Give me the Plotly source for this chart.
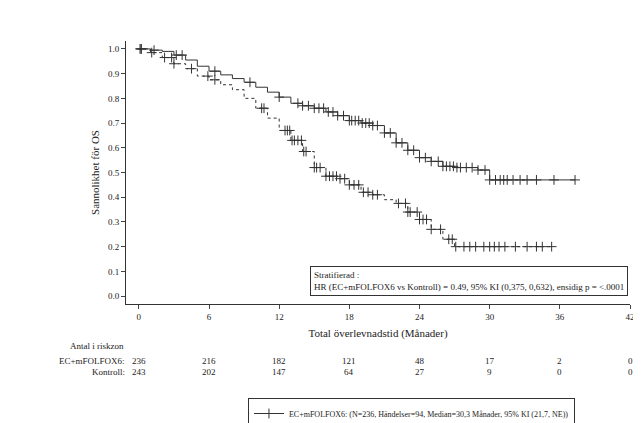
import plotly.graph_objects as go

ec_t = [0,1,2,3,4,5,6,7,8,9,10,11,12,13,14,15,16,17,18,19,20,21,22,23,24,25,26,27,29,30,37.3]
ec_s = [1.0,0.995,0.99,0.975,0.955,0.93,0.91,0.895,0.88,0.865,0.845,0.825,0.805,0.78,0.77,0.76,0.745,0.73,0.71,0.70,0.69,0.66,0.62,0.59,0.56,0.545,0.525,0.52,0.51,0.47,0.47]
ec_c = [0.2,1.3,3.2,3.7,6.5,9.5,12,13.6,14,14.5,15,15.4,15.8,16.2,16.6,17,17.5,18,18.2,18.5,18.8,19.1,19.4,19.7,20,20.4,21,21.5,22,22.5,23,23.5,24,24.5,25,25.6,26,26.3,26.6,26.9,27.2,27.5,28,28.5,29,29.6,30,30.5,30.9,31.2,31.5,32,32.6,33.2,34,35.5,37.3]
k_t = [0,1,2,3,4,5,6,7,8,9,10,11,12,13,14,15,16,17,18,19,20,21,22,23,24,25,26,27,35.3]
k_s = [1.0,0.985,0.965,0.94,0.92,0.89,0.875,0.855,0.835,0.80,0.76,0.72,0.67,0.63,0.585,0.52,0.485,0.475,0.45,0.42,0.41,0.39,0.375,0.34,0.31,0.27,0.23,0.2,0.2]
k_c = [0.1,0.2,1.1,2.2,2.8,3.0,4.5,5.9,6.5,10.5,10.7,12.5,12.7,12.9,13.1,13.3,13.6,13.9,14.1,14.3,15,15.2,15.5,16,16.3,16.6,16.9,17.2,17.6,18,18.4,18.8,19.2,19.6,20,20.4,22.2,22.8,23,23.2,23.8,24,24.3,24.6,25,25.8,26.5,26.8,27.1,27.8,28.3,28.8,29.5,30,30.4,30.8,31.3,32.2,33.2,34,34.5,35.3]

risk_x = [0,6,12,18,24,30,36,42]
risk_ec = [236,216,182,121,48,17,2,0]
risk_k = [243,202,147,64,27,9,0,0]

def step(t, s, c):
    return [s[max(i for i in range(len(t)) if t[i] <= x)] for x in c]

mk = dict(symbol="cross-thin", size=7, line=dict(color="#333", width=1))
fig = go.Figure()
fig.add_trace(go.Scatter(x=ec_t, y=ec_s, mode="lines", line=dict(color="#333", width=1, shape="hv"), showlegend=False, hoverinfo="skip"))
fig.add_trace(go.Scatter(x=ec_c, y=step(ec_t, ec_s, ec_c), mode="markers", marker=mk, showlegend=False))
fig.add_trace(go.Scatter(x=k_t, y=k_s, mode="lines", line=dict(color="#333", width=1, shape="hv", dash="dot"), showlegend=False, hoverinfo="skip"))
fig.add_trace(go.Scatter(x=k_c, y=step(k_t, k_s, k_c), mode="markers", marker=mk, showlegend=False))
fig.add_trace(go.Scatter(x=[None], y=[None], mode="lines+markers", line=dict(color="#333", width=1), marker=mk,
    name="EC+mFOLFOX6: (N=236, Händelser=94, Median=30,3 Månader, 95% KI (21,7, NE))"))
fig.add_trace(go.Scatter(x=[None], y=[None], mode="lines+markers", line=dict(color="#333", width=1, dash="dot"), marker=mk,
    name="Kontroll: (N=243, Händelser=148, Median=15,1 Månader, 95% KI (13,7, 17,7))"))

ann = [dict(x=-0.115, y=-0.185, xref="paper", yref="paper", text="Antal i riskzon", showarrow=False, xanchor="left"),
       dict(x=0, y=-0.245, xref="x", yref="paper", text="EC+mFOLFOX6:", showarrow=False, xanchor="right", xshift=-12),
       dict(x=0, y=-0.287, xref="x", yref="paper", text="Kontroll:", showarrow=False, xanchor="right", xshift=-12)]
for x, a, b in zip(risk_x, risk_ec, risk_k):
    ann.append(dict(x=x, y=-0.245, xref="x", yref="paper", text=str(a), showarrow=False))
    ann.append(dict(x=x, y=-0.287, xref="x", yref="paper", text=str(b), showarrow=False))
ann.append(dict(x=41.8, y=0.0, xref="x", yref="y", xanchor="right", yanchor="bottom", align="left",
    text="Stratifierad :<br>HR (EC+mFOLFOX6 vs Kontroll) = 0.49, 95% KI (0,375, 0,632), ensidig p = <.0001",
    showarrow=False, bordercolor="#333", borderwidth=1, borderpad=3, bgcolor="white"))

fig.update_layout(
    width=641, height=423, margin=dict(l=118, r=19, t=33, b=127, autoexpand=False),
    paper_bgcolor="white", plot_bgcolor="white",
    font=dict(family="Liberation Serif", size=9, color="#222"),
    annotations=ann,
    legend=dict(x=0.242, y=0.078, yref="container", xanchor="left", yanchor="top", bordercolor="#333", borderwidth=1,
                font=dict(size=8), tracegroupgap=0, itemwidth=30),
    xaxis=dict(range=[-1.1, 42], tickvals=list(range(0, 43, 6)), showline=True, linecolor="#333",
               ticks="outside", ticklen=4, showgrid=False, zeroline=False, automargin=False,
               title=dict(text="Total överlevnadstid (Månader)", standoff=8)),
    yaxis=dict(range=[-0.032, 1.032], tickvals=[i/10 for i in range(11)], tickformat=".1f", showline=True,
               linecolor="#333", ticks="outside", ticklen=4, showgrid=False, zeroline=False, automargin=False,
               title=dict(text="Sannolikhet för OS", standoff=6)),
)
fig.write_html("out.html")
